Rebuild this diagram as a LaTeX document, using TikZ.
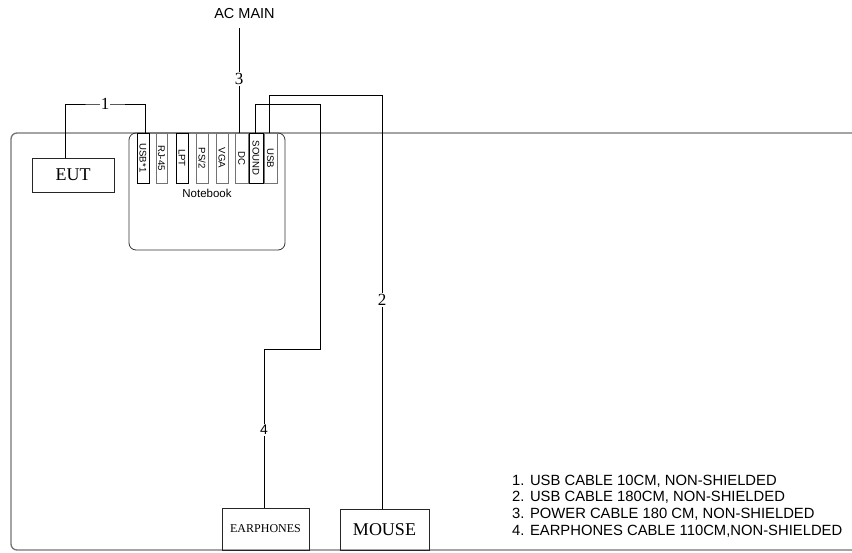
\documentclass[tikz,border=0pt]{standalone}
\usepackage{fontspec}
\setmainfont{Liberation Serif}
\setsansfont{Liberation Sans}
\usepackage{graphicx}
\begin{document}
\begin{tikzpicture}[x=1pt,y=-1pt,
  wire/.style={draw=black,line width=0.8pt},
  boxnode/.style={draw=black!85,line width=0.8pt,inner sep=0pt,font=\rmfamily},
  portbox/.style={draw=black!55,line width=0.7pt,inner sep=0pt,minimum height=50pt,font=\sffamily\fontsize{9.6}{9.6}\selectfont},
  darkport/.style={portbox,draw=black},
  lbl/.style={fill=white,inner sep=1pt,font=\rmfamily\fontsize{17}{17}\selectfont},
  legendline/.style={anchor=base west,inner sep=0pt,font=\sffamily\fontsize{14.8}{16}\selectfont}]
\useasboundingbox (0,0) rectangle (852,552);
% table outline
\draw[line width=1.3pt,draw=black!55] (852,133) -- (17,133) arc[start angle=90,end angle=180,radius=6pt] -- (11,544) arc[start angle=180,end angle=270,radius=6pt] -- (852,550);
% notebook
\node[draw=black!80,line width=0.8pt,rounded corners=7pt,minimum width=156pt,minimum height=117pt,inner sep=0pt] (nb) at (207,191.5) {};
\node[font=\sffamily\fontsize{11.5}{11.5}\selectfont] (nblbl) at (207,193) {Notebook};
% ports
\node[darkport,minimum width=12pt] (usb1) at (143,158) {\rotatebox{-90}{USB*1}};
\node[portbox,minimum width=11pt] (rj45) at (161.5,158) {\rotatebox{-90}{RJ-45}};
\node[darkport,minimum width=12pt] (lpt) at (182,158) {\rotatebox{-90}{LPT}};
\node[portbox,minimum width=12pt] (ps2) at (202,158) {\rotatebox{-90}{PS/2}};
\node[portbox,minimum width=12pt] (vga) at (222,158) {\rotatebox{-90}{VGA}};
\node[portbox,minimum width=13.5pt] (dc) at (241.75,158) {\rotatebox{-90}{DC}};
\node[darkport,minimum width=14pt] (sound) at (256,158) {\rotatebox{-90}{SOUND}};
\node[portbox,minimum width=13pt] (usb) at (270.5,158) {\rotatebox{-90}{USB}};
% devices
\node[boxnode,minimum width=82pt,minimum height=34pt,font=\rmfamily\fontsize{18}{18}\selectfont] (eut) at (73,175) {EUT};
\node[boxnode,minimum width=87pt,minimum height=42pt,font=\rmfamily\fontsize{12}{12}\selectfont] (ear) at (265.5,529) {EARPHONES};
\node[boxnode,minimum width=89pt,minimum height=41pt,font=\rmfamily\fontsize{18}{18}\selectfont] (mouse) at (384.5,529.5) {MOUSE};
\node[font=\sffamily\fontsize{14.5}{14.5}\selectfont] (ac) at (244.5,14) {AC MAIN};
% cable 1
\coordinate (c1) at (105,104);
\draw[wire] ([xshift=-8pt]eut.north) |- (c1) -| ([xshift=2.7pt]usb1.north);
\node[lbl] (l1) at (c1) {1};
% cable 3
\coordinate (c3top) at (239,28);
\draw[wire] (c3top) -- ([xshift=-2.75pt]dc.north);
\node[lbl] (l3) at (239,79) {3};
% cable 4
\coordinate (c4a) at (320,104);
\coordinate (c4b) at (320,349);
\coordinate (c4c) at (264,349);
\draw[wire] ([xshift=-1pt]sound.north) |- (c4a) -- (c4b) -- (c4c) -- ([xshift=-1.5pt]ear.north);
\node[fill=white,inner sep=1pt,font=\sffamily\fontsize{14}{14}\selectfont] (l4) at (264,430) {4};
% cable 2
\coordinate (c2a) at (382,95);
\draw[wire] ([xshift=-1.5pt]usb.north) |- (c2a) -- ([xshift=-2.5pt]mouse.north);
\node[lbl] (l2) at (382,300) {2};
% legend
\node[legendline] (lg1) at (512,485) {1. USB CABLE 10CM, NON-SHIELDED};
\node[legendline] (lg2) at (512,501.7) {2. USB CABLE 180CM, NON-SHIELDED};
\node[legendline] (lg3) at (512,518.4) {3. POWER CABLE 180 CM, NON-SHIELDED};
\node[legendline] (lg4) at (512,535) {4. EARPHONES CABLE 110CM,NON-SHIELDED};
\end{tikzpicture}
\end{document}
